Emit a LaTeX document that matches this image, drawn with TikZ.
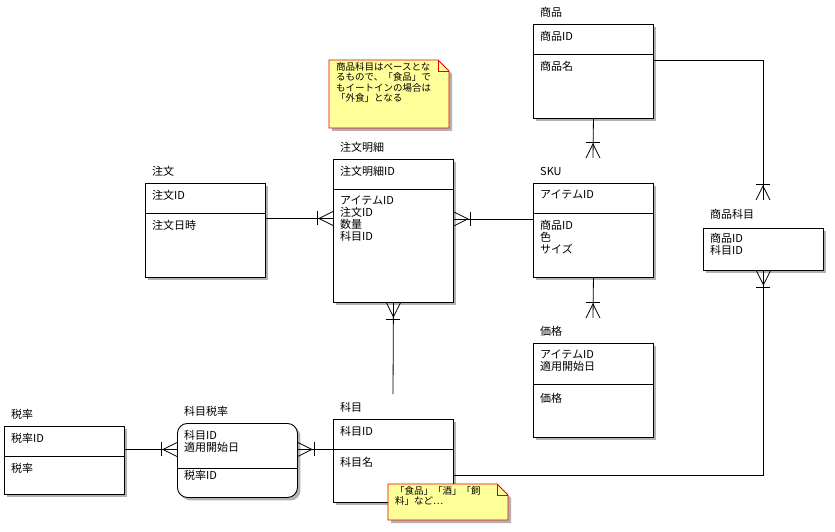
\documentclass[tikz,border=0pt]{standalone}
\usepackage{fontspec}
\setmainfont{Noto Sans CJK JP}
\usetikzlibrary{shadows}
\definecolor{notefill}{HTML}{FFFF99}
\definecolor{noteline}{HTML}{E60000}
\begin{document}
\begin{tikzpicture}[x=1pt,y=-1pt,
  shd/.style={drop shadow={shadow xshift=3pt,shadow yshift=-3pt,opacity=0.3,fill=black}},
  box/.style={draw=black, line width=0.9pt, fill=white, shd, anchor=north west, inner sep=0pt, minimum width=120pt},
  txt/.style={anchor=north west, inner sep=0pt, align=left, font=\fontsize{11}{12}\selectfont},
  ttl/.style={anchor=west, inner sep=0pt, font=\fontsize{11}{12}\selectfont},
  notetxt/.style={anchor=north west, inner sep=0pt, align=left, font=\fontsize{9.5}{10.5}\selectfont},
  notebox/.style={draw=noteline, line width=0.9pt, fill=notefill, shd},
  div/.style={draw=black, line width=0.9pt},
  rel/.style={draw=black, line width=0.8pt},
  crow/.pic={\draw[line width=0.8pt] (0,-7) -- (14,0) -- (0,7); \draw[line width=0.8pt] (16,-7) -- (16,7);}
]
\useasboundingbox (0,0) rectangle (835,532);

% ---- 商品
\node[box, minimum height=94pt] (shohin) at (533,24) {};
\draw[div] (533,54) -- (653,54);
\node[ttl] (t-shohin) at (540,12) {商品};
\node[txt] (k-shohin) at (540,31) {商品ID};
\node[txt] (a-shohin) at (540,61) {商品名};

% ---- 注文
\node[box, minimum height=94pt] (chumon) at (145,183) {};
\draw[div] (145,213) -- (265,213);
\node[ttl] (t-chumon) at (152,171) {注文};
\node[txt] (k-chumon) at (152,190) {注文ID};
\node[txt] (a-chumon) at (152,220) {注文日時};

% ---- 注文明細
\node[box, minimum height=143pt] (meisai) at (333,159) {};
\draw[div] (333,189) -- (453,189);
\node[ttl] (t-meisai) at (340,147) {注文明細};
\node[txt] (k-meisai) at (340,166) {注文明細ID};
\node[txt] (a-meisai) at (340,196) {アイテムID\\注文ID\\数量\\科目ID};

% ---- SKU
\node[box, minimum height=94pt] (sku) at (533,183) {};
\draw[div] (533,213) -- (653,213);
\node[ttl] (t-sku) at (540,171) {SKU};
\node[txt] (k-sku) at (540,190) {アイテムID};
\node[txt] (a-sku) at (540,220) {商品ID\\色\\サイズ};

% ---- 価格
\node[box, minimum height=94pt] (kakaku) at (533,343) {};
\draw[div] (533,384) -- (653,384);
\node[ttl] (t-kakaku) at (540,331) {価格};
\node[txt] (k-kakaku) at (540,350) {アイテムID\\適用開始日};
\node[txt] (a-kakaku) at (540,393) {価格};

% ---- 商品科目
\node[box, minimum height=42pt] (shkamoku) at (703,228) {};
\node[ttl] (t-shkamoku) at (710,214) {商品科目};
\node[txt] (k-shkamoku) at (710,233) {商品ID\\科目ID};

% ---- 税率
\node[box, minimum height=68pt] (zeiritsu) at (4,426) {};
\draw[div] (4,456) -- (124,456);
\node[ttl] (t-zeiritsu) at (11,414) {税率};
\node[txt] (k-zeiritsu) at (11,433) {税率ID};
\node[txt] (a-zeiritsu) at (11,463) {税率};

% ---- 科目税率
\node[box, minimum height=74pt, rounded corners=10pt] (kzr) at (177,423) {};
\draw[div] (177,468) -- (297,468);
\node[ttl] (t-kzr) at (184,411) {科目税率};
\node[txt] (k-kzr) at (184,430) {科目ID\\適用開始日};
\node[txt] (a-kzr) at (184,470) {税率ID};

% ---- 科目
\node[box, minimum height=83pt] (kamoku) at (333,419) {};
\draw[div] (333,449) -- (453,449);
\node[ttl] (t-kamoku) at (340,407) {科目};
\node[txt] (k-kamoku) at (340,426) {科目ID};
\node[txt] (a-kamoku) at (340,457) {科目名};

% ---- connectors
\coordinate (skuend) at (593,158);
\coordinate (kakakuend) at (593,318);
\coordinate (kamokuend) at (393,394);
\coordinate (shkend) at (763,200);

\draw[rel] ([yshift=12pt]chumon.east) -- ([yshift=12pt]chumon.east -| meisai.west);
\pic[rotate=180] at ([yshift=12pt]chumon.east -| meisai.west) {crow};

\draw[rel] ([yshift=12pt]meisai.east) -- ([yshift=12pt]meisai.east -| sku.west);
\pic at ([yshift=12pt]meisai.east) {crow};

\draw[rel] (shohin.south) -- (skuend);
\pic[rotate=90] at (skuend) {crow};

\draw[rel] (sku.south) -- (kakakuend);
\pic[rotate=90] at (kakakuend) {crow};

\draw[rel] (meisai.south) -- (kamokuend);
\pic[rotate=-90] at (meisai.south) {crow};

\draw[rel] ([yshift=11pt]shohin.east) -| (shkend);
\pic[rotate=90] at (shkend) {crow};

\draw[rel] ([yshift=-14.5pt]kamoku.east) -| (shkamoku.south);
\pic[rotate=-90] at (shkamoku.south) {crow};

\draw[rel] ([yshift=11pt]zeiritsu.east) -- ([yshift=11pt]zeiritsu.east -| kzr.west);
\pic[rotate=180] at ([yshift=11pt]zeiritsu.east -| kzr.west) {crow};

\draw[rel] ([yshift=11pt]kzr.east) -- ([yshift=11pt]kzr.east -| kamoku.west);
\pic at ([yshift=11pt]kzr.east) {crow};

% ---- notes
\path[notebox] (329,60) -- (438,60) -- (449,71) -- (449,128) -- (329,128) -- cycle;
\draw[noteline, line width=0.5pt] (438,60) -- (438,71) -- (449,71);
\node[notetxt] (note1) at (336,62) {商品科目はベースとな\\るもので、「食品」で\\もイートインの場合は\\「外食」となる};

\path[notebox] (388,484) -- (497,484) -- (508,495) -- (508,520) -- (388,520) -- cycle;
\draw[noteline, line width=0.5pt] (497,484) -- (497,495) -- (508,495);
\node[notetxt] (note2) at (395,486) {「食品」「酒」「飼\\料」など…};

\end{tikzpicture}
\end{document}
